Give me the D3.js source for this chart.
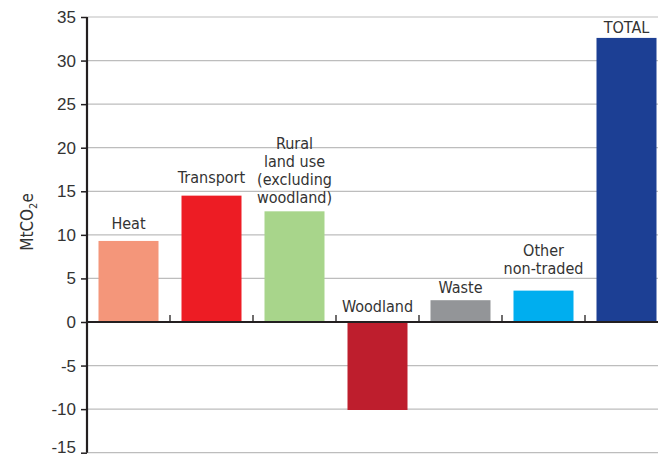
<!DOCTYPE html>
<html><head><meta charset="utf-8">
<script src="https://cdn.jsdelivr.net/npm/d3@7"></script>
<style>
html,body{margin:0;padding:0;background:#fff;}
svg{display:block;font-family:"Liberation Sans Narrow","DejaVu Sans Condensed","Roboto",sans-serif;}
</style></head><body>
<svg id="c" width="658" height="459"></svg>
<script>
const categories = ["Heat","Transport","Rural land use (excluding woodland)","Woodland","Waste","Other non-traded","TOTAL"];
const labelLines = [["Heat"],["Transport"],["Rural","land use","(excluding","woodland)"],["Woodland"],["Waste"],["Other","non-traded"],["TOTAL"]];
const values = [9.3,14.5,12.7,-10.1,2.5,3.6,32.6];
const colors = ["#F4967A","#ED1C24","#A8D58B","#BE1E2D","#939598","#00AEEF","#1C3F94"];
const yTicks = [-15,-10,-5,0,5,10,15,20,25,30,35];
const labelGap = [12,13,8,10,7,17,5];

const svg = d3.select("#c");
const x0 = 87, xEnd = 87 + 83*7;
const y = d3.scaleLinear().domain([-15,35]).range([452.7,17]);
const x = d3.scaleBand().domain(categories).range([x0,xEnd]).paddingInner(23/83).paddingOuter(11.5/83);

// gridlines
svg.append("g").selectAll("line").data(yTicks.filter(d=>d!==0)).join("line")
  .attr("x1",x0).attr("x2",658).attr("y1",d=>y(d)).attr("y2",d=>y(d))
  .attr("stroke","#bdbdbd").attr("stroke-width",1.2);

// bars
svg.append("g").selectAll("rect").data(values).join("rect")
  .attr("x",(d,i)=>x(categories[i])).attr("width",x.bandwidth())
  .attr("y",d=>y(Math.max(0,d))).attr("height",d=>Math.abs(y(d)-y(0)))
  .attr("fill",(d,i)=>colors[i]);

// y axis
const yAxis = d3.axisLeft(y).tickValues(yTicks).tickSize(6).tickPadding(5).tickFormat(d=>String(d));
const ga = svg.append("g").attr("transform",`translate(${x0},0)`).call(yAxis);
ga.select(".domain").attr("stroke","#231f20").attr("stroke-width",2.2).attr("d",`M0,${y(-15)}V${y(35)}`);
ga.selectAll(".tick line").attr("stroke","#231f20").attr("stroke-width",1.5);
ga.selectAll(".tick text").attr("font-size",17).attr("fill","#333").attr("font-family","inherit")
  .attr("dy",d=>d===-15?"0em":"0.32em");

// zero line
svg.append("line").attr("x1",x0).attr("x2",658).attr("y1",y(0)).attr("y2",y(0))
  .attr("stroke","#231f20").attr("stroke-width",2.2);
// category boundary ticks
const step = x.step();
svg.append("g").selectAll("line").data(d3.range(1,7)).join("line")
  .attr("x1",d=>x0+d*step).attr("x2",d=>x0+d*step)
  .attr("y1",y(0)).attr("y2",y(0)-7)
  .attr("stroke","#231f20").attr("stroke-width",1.3);

// labels
const lh = 18;
const lab = svg.append("g").attr("font-size",16).attr("fill","#333").attr("text-anchor","middle");
labelLines.forEach((lines,i)=>{
  const cx = x(categories[i]) + x.bandwidth()/2;
  const base = y(Math.max(0,values[i])) - labelGap[i];
  const t = lab.append("text").attr("x",cx);
  lines.forEach((s,j)=>{
    t.append("tspan").attr("x",cx).attr("y",base-(lines.length-1-j)*lh).text(s);
  });
});

// y label
const yl = svg.append("text").attr("transform",`translate(33,222) rotate(-90)`)
  .attr("text-anchor","middle").attr("font-size",17).attr("fill","#333");
yl.append("tspan").text("MtCO");
yl.append("tspan").attr("font-size",11).attr("dy",4).text("2");
yl.append("tspan").attr("dy",-4).text("e");
</script>
</body></html>
